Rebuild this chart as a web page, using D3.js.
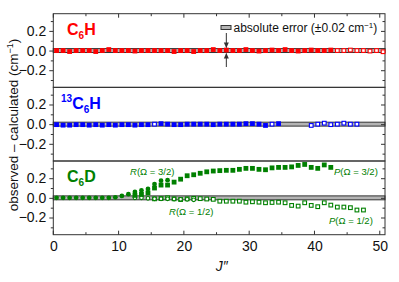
<!DOCTYPE html>
<html><head><meta charset="utf-8">
<script src="https://cdn.jsdelivr.net/npm/d3@7"></script>
<style>body{margin:0;background:#fff}svg{display:block}text{font-family:Arial,"Liberation Sans",sans-serif}</style>
</head><body>
<svg id="c" width="399" height="282"></svg>
<script>
// ---- data ----
const xTicks = [0, 10, 20, 30, 40, 50];
const yTicks = [-0.2, 0.0, 0.2];
const errHalf = 0.02;

// C6H
const c6hJFilled = [0.5,1.5,2.5,3.5,4.5,5.5,6.5,7.5,8.5,9.5,10.5,11.5,12.5,13.5,14.5,15.5,16.5,17.5,18.5,19.5,20.5,21.5,22.5,23.5,24.5,25.5,26.5,27.5,28.5,29.5,30.5,31.5,32.5,33.5,34.5,35.5,36.5,37.5,38.5,39.5,40.5,41.5,42.5];
const c6hFilled = [0.00,0.00,-0.01,0.00,0.00,0.00,-0.01,0.00,0.01,0.00,0.00,0.00,-0.005,0.00,0.00,0.00,0.00,0.00,-0.01,0.00,0.00,-0.01,0.00,0.00,0.01,0.00,0.005,0.00,0.00,0.01,0.00,-0.005,0.00,0.005,0.00,0.01,0.00,-0.005,0.00,0.005,0.00,0.00,0.005];
const c6hJOpen = [43.5,44.5,45.5,46.5,47.5,48.5,49.5,50.5];
const c6hOpen = [0.00,0.00,0.005,0.00,0.00,-0.005,0.00,-0.012];

// 13C6H
const c13JFilled = [0.5,1.5,2.5,3.5,4.5,5.5,6.5,7.5,8.5,9.5,10.5,11.5,12.5,13.5,14.5,16.5,17.5,18.5,19.5,20.5,21.5,22.5,23.5,24.5,25.5,26.5,27.5,28.5,29.5,30.5,31.5,32.5,34.5];
const c13Filled = [-0.005,-0.01,-0.01,-0.005,-0.005,-0.01,-0.005,-0.01,-0.005,-0.01,-0.005,-0.005,-0.01,-0.005,-0.005,0.005,0.0,-0.005,-0.005,0.0,0.0,0.0,0.0,-0.005,0.0,0.0,0.0,0.0,0.005,0.005,0.0,-0.013,0.005];
const c13JOpen = [15.5,33.5,39.5,40.5,41.5,42.5,43.5,44.5,45.5,46.5];
const c13Open = [0.0,0.0,-0.013,0.0,0.01,-0.005,0.0,0.01,0.0,0.0];

// C6D
const rOmega32J = [0.5,1.5,2.5,3.5,4.5,5.5,6.5,7.5,8.5,9.5,10.5,11.5,12.5,13.5,14.5,15.5,16.5,17.5];
const rOmega32 = [0.0,0.0,0.0,0.0,0.0,0.0,0.0,0.0,0.0,0.005,0.02,0.037,0.06,0.075,0.09,0.14,0.175,0.18];
const pOmega32J = [12.5,13.5,14.5,15.5,16.5,17.5,18.5,19.5,20.5,21.5,22.5,23.5,24.5,25.5,26.5,27.5,28.5,29.5,30.5,31.5,32.5,33.5,34.5,35.5,36.5,37.5,38.5,39.5,40.5,41.5,42.5];
const pOmega32 = [0.025,0.035,0.05,0.10,0.13,0.13,0.16,0.19,0.225,0.235,0.25,0.265,0.273,0.277,0.28,0.28,0.29,0.30,0.30,0.29,0.286,0.305,0.31,0.31,0.315,0.33,0.34,0.31,0.30,0.335,0.31];
const rOmega12J = [12.5,13.5,14.5,15.5,16.5,17.5,18.5,19.5,20.5,21.5];
const rOmega12 = [0.0,0.0,-0.005,-0.01,-0.01,-0.01,-0.012,-0.015,-0.015,-0.02];
const pOmega12J = [15.5,16.5,17.5,18.5,19.5,20.5,21.5,22.5,23.5,24.5,25.5,26.5,27.5,28.5,29.5,30.5,31.5,32.5,33.5,34.5,35.5,36.5,37.5,38.5,39.5,40.5,41.5,42.5,43.5,44.5,45.5,46.5,47.5];
const pOmega12 = [-0.01,-0.007,0.0,-0.01,-0.017,-0.01,-0.005,-0.008,-0.012,-0.015,-0.034,-0.034,-0.034,-0.034,-0.044,-0.04,-0.044,-0.05,-0.047,-0.044,-0.05,-0.077,-0.084,-0.05,-0.077,-0.09,-0.05,-0.074,-0.094,-0.094,-0.1,-0.124,-0.124];

// ---- drawing ----
const svg = d3.select("#c");
const L = 53.3, R = 385, panelTops = [13.7, 87.3, 161.0], PH = 73.7;
const x = d3.scaleLinear().domain([0, 50.8]).range([L, R]);
const axisCol = "#333";
const red = "#ff0000", blue = "#0000ff", green = "#008000";
const FONT = "Arial, 'Liberation Sans', sans-serif";

const panels = [
  {series: [
    {J: c6hJFilled, v: c6hFilled, shape: "sq", fill: true, col: red},
    {J: c6hJOpen, v: c6hOpen, shape: "sq", fill: false, col: red}]},
  {series: [
    {J: c13JFilled, v: c13Filled, shape: "sq", fill: true, col: blue},
    {J: c13JOpen, v: c13Open, shape: "sq", fill: false, col: blue}]},
  {series: [
    {J: pOmega12J, v: pOmega12, shape: "sq", fill: false, col: green},
    {J: rOmega12J, v: rOmega12, shape: "ci", fill: false, col: green},
    {J: pOmega32J, v: pOmega32, shape: "sq", fill: true, col: green},
    {J: rOmega32J, v: rOmega32, shape: "ci", fill: true, col: green}]}
];

panels.forEach((p, i) => {
  const top = panelTops[i];
  const y = d3.scaleLinear().domain([-0.375, 0.375]).range([top + PH, top]);
  p.y = y;
  const g = svg.append("g");
  // error band
  g.append("rect").attr("x", x(0)).attr("width", R - x(0))
    .attr("y", y(errHalf)).attr("height", y(-errHalf) - y(errHalf))
    .attr("fill", "#b4b4b4").attr("stroke", axisCol).attr("stroke-width", 1);
  // left axis
  const minor = [-0.3, -0.1, 0.1, 0.3];
  const gl = g.append("g").attr("transform", `translate(${L},0)`)
    .call(d3.axisLeft(y).tickValues(yTicks).tickSize(4).tickPadding(3).tickFormat(d3.format(".1f")));
  gl.select(".domain").remove();
  gl.selectAll("text").attr("font-size", 14).attr("fill", "#111").attr("font-family", FONT);
  gl.selectAll("line").attr("stroke", axisCol);
  g.append("g").attr("transform", `translate(${L},0)`)
    .call(d3.axisLeft(y).tickValues(minor).tickSize(2.5).tickFormat(""))
    .call(s => { s.select(".domain").remove(); s.selectAll("line").attr("stroke", axisCol); });
  // right axis (inward)
  g.append("g").attr("transform", `translate(${R},0)`)
    .call(d3.axisLeft(y).tickValues(yTicks).tickSize(4).tickFormat(""))
    .call(s => { s.select(".domain").remove(); s.selectAll("line").attr("stroke", axisCol); });
  g.append("g").attr("transform", `translate(${R},0)`)
    .call(d3.axisLeft(y).tickValues(minor).tickSize(2.5).tickFormat(""))
    .call(s => { s.select(".domain").remove(); s.selectAll("line").attr("stroke", axisCol); });
  // frame
  g.append("rect").attr("x", L).attr("y", top).attr("width", R - L).attr("height", PH)
    .attr("fill", "none").attr("stroke", axisCol).attr("stroke-width", 1);
  // markers
  p.series.forEach(s => {
    const pts = s.J.map((j, k) => [j, s.v[k]]);
    if (s.shape === "sq") {
      const sz = s.fill ? 4.8 : 3.7;
      g.selectAll(null).data(pts).enter().append("rect")
        .attr("x", d => x(d[0]) - sz / 2).attr("y", d => y(d[1]) - sz / 2)
        .attr("width", sz).attr("height", sz)
        .attr("fill", s.fill ? s.col : "#fff").attr("stroke", s.fill ? "none" : s.col).attr("stroke-width", 1.1);
    } else {
      g.selectAll(null).data(pts).enter().append("circle")
        .attr("cx", d => x(d[0])).attr("cy", d => y(d[1]))
        .attr("r", s.fill ? 2.4 : 1.8)
        .attr("fill", s.fill ? s.col : "#fff").attr("stroke", s.fill ? "none" : s.col).attr("stroke-width", 1.1);
    }
  });
});

// x axes: top (inward) and bottom (inward)
const xMinor = [5, 15, 25, 35, 45];
const yBot = panelTops[2] + PH;
const gb = svg.append("g").attr("transform", `translate(0,${yBot})`)
  .call(d3.axisBottom(x).tickValues(xTicks).tickSize(0).tickPadding(6).tickFormat(d3.format("d")));
gb.select(".domain").remove();
gb.selectAll("text").attr("font-size", 14).attr("fill", "#111").attr("font-family", FONT);
[[yBot, -1], [panelTops[0], 1]].forEach(([yy, dir]) => {
  svg.append("g").selectAll(null).data(xTicks).enter().append("line")
    .attr("x1", d => x(d)).attr("x2", d => x(d)).attr("y1", yy).attr("y2", yy + dir * 4).attr("stroke", axisCol);
  svg.append("g").selectAll(null).data(xMinor).enter().append("line")
    .attr("x1", d => x(d)).attr("x2", d => x(d)).attr("y1", yy).attr("y2", yy + dir * 2.5).attr("stroke", axisCol);
});

// axis labels
svg.append("text").attr("x", x(25.8)).attr("y", 271).attr("text-anchor", "middle")
  .attr("font-size", 14).attr("font-style", "italic").attr("fill", "#111").text("J″");
const yl = svg.append("text").attr("transform", `translate(18,${125}) rotate(-90)`)
  .attr("text-anchor", "middle").attr("font-size", 13.5).attr("fill", "#111");
yl.append("tspan").text("observed – calculated (cm");
yl.append("tspan").attr("font-size", 9).attr("dy", -5).text("−1");
yl.append("tspan").attr("dy", 5).text(")");

// panel labels
function molLabel(xp, yp, col, parts) {
  const t = svg.append("text").attr("x", xp).attr("y", yp).attr("fill", col)
    .attr("font-weight", "bold").attr("font-size", 16);
  parts.forEach(([txt, kind]) => {
    const ts = t.append("tspan").text(txt);
    if (kind === "sub") ts.attr("font-size", 10).attr("dy", 4);
    else if (kind === "sup") ts.attr("font-size", 10).attr("dy", -7);
    else if (kind === "after-sub") ts.attr("dy", -4);
    else if (kind === "after-sup") ts.attr("dy", 7);
  });
}
molLabel(67, 35, red, [["C"], ["6", "sub"], ["H", "after-sub"]]);
molLabel(61, 109, blue, [["13", "sup"], ["C", "after-sup"], ["6", "sub"], ["H", "after-sub"]]);
molLabel(67, 182, green, [["C"], ["6", "sub"], ["D", "after-sub"]]);

// branch labels
function branch(xp, yp, letter, omega) {
  const t = svg.append("text").attr("x", xp).attr("y", yp).attr("fill", green).attr("font-size", 9.5);
  t.append("tspan").attr("font-style", "italic").text(letter);
  t.append("tspan").text("(Ω = " + omega + ")");
}
branch(130, 175, "R", "3/2");
branch(169, 215, "R", "1/2");
branch(334, 175, "P", "3/2");
branch(329, 224, "P", "1/2");

// legend for error band
const py = panels[0].y;
svg.append("rect").attr("x", 221).attr("y", 25.5).attr("width", 10).attr("height", 4)
  .attr("fill", "#b4b4b4").attr("stroke", axisCol).attr("stroke-width", 1);
const lt = svg.append("text").attr("x", 233.5).attr("y", 32).attr("font-size", 12).attr("fill", "#111");
lt.append("tspan").text("absolute error (±0.02 cm");
lt.append("tspan").attr("font-size", 8).attr("dy", -4.5).text("−1");
lt.append("tspan").attr("dy", 4.5).text(")");
// arrows pointing to band
const ax = x(26.5);
svg.append("line").attr("x1", ax).attr("x2", ax).attr("y1", 33).attr("y2", py(errHalf) - 1).attr("stroke", axisCol);
svg.append("path").attr("d", `M${ax-2.5},${py(errHalf)-6} L${ax+2.5},${py(errHalf)-6} L${ax},${py(errHalf)-0.5}Z`).attr("fill", axisCol);
svg.append("line").attr("x1", ax).attr("x2", ax).attr("y1", 67).attr("y2", py(-errHalf) + 1).attr("stroke", axisCol);
svg.append("path").attr("d", `M${ax-2.5},${py(-errHalf)+6} L${ax+2.5},${py(-errHalf)+6} L${ax},${py(-errHalf)+0.5}Z`).attr("fill", axisCol);
</script>
</body></html>
